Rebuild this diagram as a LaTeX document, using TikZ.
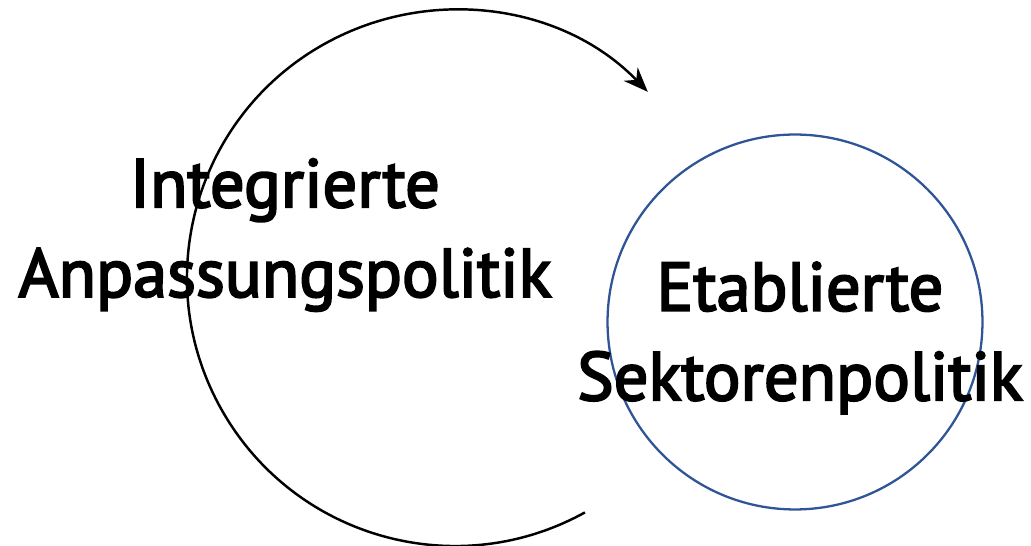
\documentclass[tikz,border=0pt]{standalone}
\usepackage{fontspec}
\setmainfont{PT Sans}[FakeBold=3]
\usetikzlibrary{arrows.meta,positioning,calc}
\definecolor{ringblue}{HTML}{2F5597}

\begin{document}
\begin{tikzpicture}[x=0.02cm,y=0.02cm,>={Stealth[length=14pt,width=11pt]}]
\useasboundingbox (0,0) rectangle (1031,546);
\tikzset{label text/.style={align=center,font=\fontsize{39}{51}\selectfont,inner sep=0pt}}
% cycle arc round the left text
\coordinate (cyc) at (455,268);
\draw[line width=1.4pt,->] ($(cyc)+(-61:268)$) arc[start angle=-61,end angle=-316,radius=268];
% sector circle
\node[draw=ringblue,line width=1.3pt,circle,minimum size=7.5cm] (etab) at (795,224) {};
\node[label text] (integ) at (285,311) {Integrierte\\Anpassungspolitik};
\node[label text] (sekt) at (800,208) {Etablierte\\Sektorenpolitik};
\end{tikzpicture}
\end{document}
